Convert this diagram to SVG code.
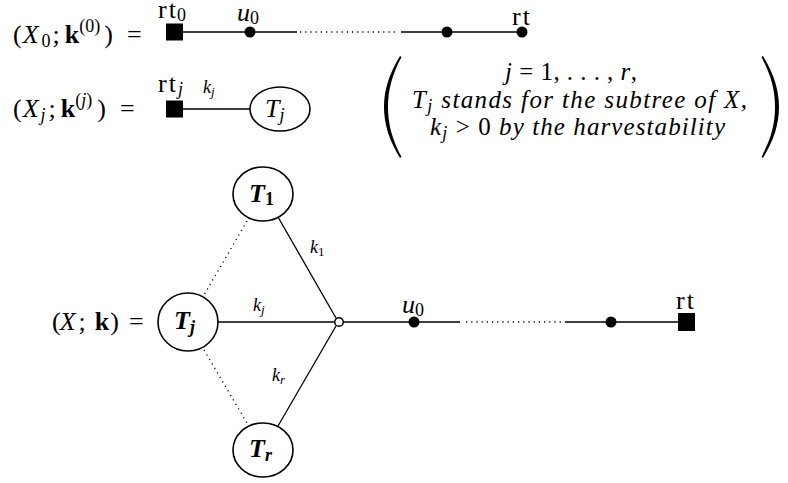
<svg xmlns="http://www.w3.org/2000/svg" width="788" height="483" viewBox="0 0 788 483">
<style>
text{font-family:"Liberation Serif","DejaVu Serif",serif;fill:#000}
.m{font-size:26px}
.n{font-size:25px}
.it{font-style:italic}
.up{font-style:normal}
.b{font-weight:bold}
.sub{font-size:18px}
.lbl{font-size:18px}
.edge{stroke:#000;stroke-width:1.3;fill:none}
.dot{stroke:#000;stroke-width:1.3;stroke-dasharray:1.2 4;fill:none}
.node{fill:#fff;stroke:#000;stroke-width:1.6}
</style>
<rect width="788" height="483" fill="#fff"/>
<!-- formulas -->
<text class="m" x="13" y="43">(<tspan class="it" dx="1">X</tspan><tspan class="sub" dx="3" dy="4">0</tspan><tspan dx="2" dy="-4">;</tspan><tspan class="b" dx="5">k</tspan><tspan class="sub" dy="-11">(0)</tspan><tspan dx="4" dy="11">)</tspan><tspan dx="14">=</tspan></text>
<text class="m" x="13" y="117">(<tspan class="it" dx="1">X</tspan><tspan class="sub it" dx="2" dy="4">j</tspan><tspan dx="3" dy="-4">;</tspan><tspan class="b" dx="5">k</tspan><tspan class="sub" dy="-11">(</tspan><tspan class="sub it">j</tspan><tspan class="sub">)</tspan><tspan dx="5" dy="11">)</tspan><tspan dx="14">=</tspan></text>
<text class="m" x="52" y="330">(<tspan class="it" dx="-1">X</tspan><tspan dx="3">;</tspan><tspan class="b" dx="9">k</tspan><tspan dx="1">)</tspan><tspan dx="10">=</tspan></text>
<!-- parenthetical -->
<g id="note">
<path d="M400,56 C389,74 384,90 384,107 C384,124 389,140 400,158 L401.5,157 C392,139 388,124 388,107 C388,90 392,75 401.5,57 Z"/>
<path d="M763,56 C774,74 779,90 779,107 C779,124 774,140 763,158 L761.5,157 C771,139 775,124 775,107 C775,90 771,75 761.5,57 Z"/>
<text class="n" x="505" y="80" textLength="132" lengthAdjust="spacing"><tspan class="it">j</tspan> = 1, . . . , <tspan class="it">r</tspan>,</text>
<text class="n it" x="412" y="108" textLength="335" lengthAdjust="spacing">T<tspan class="sub" dy="4">j</tspan><tspan dy="-4"> stands for the subtree of X,</tspan></text>
<text class="n it" x="430" y="135" textLength="295" lengthAdjust="spacing">k<tspan class="sub" dy="4">j</tspan><tspan dy="-4" class="up"> &gt; 0 </tspan><tspan>by the harvestability</tspan></text>
</g>
<!-- connectors -->
<g id="connectors">
<line class="edge" x1="183" y1="32" x2="297" y2="32"/>
<line class="dot" x1="300" y1="32" x2="398" y2="32"/>
<line class="edge" x1="401" y1="32" x2="522" y2="32"/>
<line class="edge" x1="183" y1="109" x2="250" y2="109"/>
<line class="dot" x1="247" y1="221" x2="204" y2="295"/>
<line class="dot" x1="204" y1="350" x2="247" y2="423"/>
<line class="edge" x1="278" y1="217" x2="336" y2="318"/>
<line class="edge" x1="278" y1="426" x2="336" y2="326"/>
<line class="edge" x1="218" y1="322" x2="335" y2="322"/>
<line class="edge" x1="343" y1="322" x2="460" y2="322"/>
<line class="dot" x1="466" y1="322" x2="562" y2="322"/>
<line class="edge" x1="565" y1="322" x2="678" y2="322"/>
<text class="lbl" x="203" y="93"><tspan class="it">k</tspan><tspan class="it" font-size="13" dy="3">j</tspan></text>
<text class="lbl" x="310" y="253"><tspan class="it">k</tspan><tspan font-size="13" dy="3">1</tspan></text>
<text class="lbl" x="253" y="311"><tspan class="it">k</tspan><tspan class="it" font-size="13" dy="3">j</tspan></text>
<text class="lbl" x="272" y="381"><tspan class="it">k</tspan><tspan class="it" font-size="13" dy="3">r</tspan></text>
</g>
<!-- top row nodes -->
<g id="rt0"><rect x="166" y="23.5" width="17" height="17"/><text class="m" x="158" y="18">r<tspan dx="2">t</tspan><tspan class="sub" dx="1" dy="3">0</tspan></text></g>
<g id="u0top"><circle cx="250" cy="32" r="5.5"/><text class="m it" x="237" y="21">u<tspan class="sub up" dy="3">0</tspan></text></g>
<g id="vtop"><circle cx="447" cy="32" r="5.5"/></g>
<g id="rttop"><circle cx="522" cy="32" r="5.5"/><text class="m" x="512" y="25">r<tspan dx="2">t</tspan></text></g>
<!-- second row -->
<g id="rtj"><rect x="166" y="100.5" width="17" height="17"/><text class="m" x="158" y="92">r<tspan dx="2">t</tspan><tspan class="sub it" dx="2" dy="3">j</tspan></text></g>
<g id="Tjtop"><ellipse class="node" cx="280" cy="109" rx="30" ry="22"/><text class="m it" x="265" y="117">T<tspan class="sub" dy="4">j</tspan></text></g>
<!-- bottom tree -->
<g id="T1"><ellipse class="node" cx="263" cy="194" rx="30" ry="27"/><text class="m it b" x="249" y="202">T<tspan class="sub up" dy="3">1</tspan></text></g>
<g id="Tj"><ellipse class="node" cx="188" cy="322" rx="30" ry="29"/><text class="m it b" x="174" y="329">T<tspan class="sub" dy="4">j</tspan></text></g>
<g id="Tr"><ellipse class="node" cx="263" cy="450" rx="30" ry="27"/><text class="m it b" x="249" y="457">T<tspan class="sub" dy="4">r</tspan></text></g>
<g id="junction"><circle cx="339" cy="322" r="4.3" fill="#fff" stroke="#000" stroke-width="1.6"/></g>
<g id="u0"><circle cx="414" cy="322" r="5.5"/><text class="m it" x="402" y="313">u<tspan class="sub up" dy="3">0</tspan></text></g>
<g id="v"><circle cx="611" cy="322" r="5.5"/></g>
<g id="rt"><rect x="678" y="313" width="17" height="18"/><text class="m" x="676" y="309">r<tspan dx="2">t</tspan></text></g>
</svg>
